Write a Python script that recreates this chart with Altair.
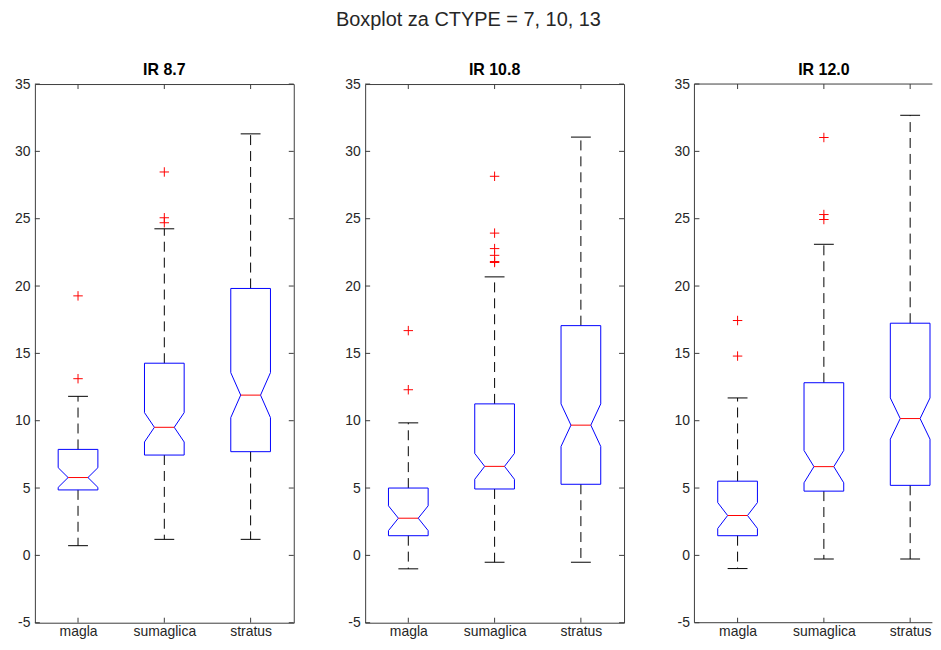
import altair as alt
import pandas as pd

# ---------------- data ----------------
kategorije = ["magla", "sumaglica", "stratus"]
kanali = ["IR 8.7", "IR 10.8", "IR 12.0"]

# IR 8.7
ir87_donji = [0.72, 1.19, 1.19]       # lower whisker
ir87_q1 = [4.86, 7.45, 7.70]
ir87_med = [5.78, 9.51, 11.90]
ir87_q3 = [7.87, 14.27, 19.82]
ir87_gornji = [11.81, 24.25, 31.30]   # upper whisker
ir87_zarez = [0.73, 1.09, 1.67]       # notch half-height
ir87_izdvojeni = [[13.12, 19.27], [24.70, 25.07, 28.47], []]

# IR 10.8
ir108_donji = [-1.00, -0.51, -0.51]
ir108_q1 = [1.46, 4.93, 5.28]
ir108_med = [2.76, 6.61, 9.67]
ir108_q3 = [5.00, 11.25, 17.06]
ir108_gornji = [9.84, 20.68, 31.06]
ir108_zarez = [0.92, 0.96, 1.58]
ir108_izdvojeni = [[12.30, 16.69], [21.75, 21.82, 22.28, 22.78, 23.93, 28.15], []]

# IR 12.0
ir120_donji = [-0.98, -0.27, -0.27]
ir120_q1 = [1.46, 4.77, 5.20]
ir120_med = [2.96, 6.59, 10.16]
ir120_q3 = [5.51, 12.82, 17.24]
ir120_gornji = [11.69, 23.10, 32.68]
ir120_zarez = [0.96, 1.20, 1.53]
ir120_izdvojeni = [[14.80, 17.44], [24.94, 25.31, 31.03], []]

y_tick_values = [-5, 0, 5, 10, 15, 20, 25, 30, 35]
x_tick_values = [1, 2, 3]

paneli = [
    (ir87_donji, ir87_q1, ir87_med, ir87_q3, ir87_gornji, ir87_zarez, ir87_izdvojeni),
    (ir108_donji, ir108_q1, ir108_med, ir108_q3, ir108_gornji, ir108_zarez, ir108_izdvojeni),
    (ir120_donji, ir120_q1, ir120_med, ir120_q3, ir120_gornji, ir120_zarez, ir120_izdvojeni),
]

# ---------------- style / layout ----------------
W, H = 260, 541
W3 = 239              # last panel is cut by the right edge of the figure, as in the original
BOX_W = 0.46          # box width in category units
TICK = 5              # inward tick length (px)
FONT = "Liberation Sans"
FRAME = "#3c3c3c"
TXT = "#262626"
BLUE = "#0000ff"
RED = "#ff0000"

ys = alt.Scale(domain=[-5, 35], nice=False, zero=False)

label_expr = "[" + ",".join("'%s'" % k for k in kategorije) + "][datum.value - 1]"
x_axis = alt.Axis(values=x_tick_values, labelExpr=label_expr, title=None, grid=False,
                  domain=False, ticks=False, tickSize=0, labelPadding=2, labelFontSize=14,
                  labelColor=TXT, labelFont=FONT, minExtent=0)
y_axis = alt.Axis(values=y_tick_values, labelExpr="toString(datum.value)", title=None,
                  grid=False, domain=False, ticks=False, tickSize=0, labelPadding=5,
                  labelFontSize=14, labelColor=TXT, labelFont=FONT, minExtent=0)


def panel(stats, naslov, width, cut=False):
    xs = alt.Scale(domain=[0.5, 0.5 + 3.0 * width / W], nice=False, zero=False)

    def X(f):
        return alt.X(f, type="quantitative", scale=xs, axis=x_axis)

    def Y(f):
        return alt.Y(f, type="quantitative", scale=ys, axis=y_axis)

    donji, q1, med, q3, gornji, zarez, izdvojeni = stats
    poly, medians, whisk, caps, outs = [], [], [], [], []
    for i, k in enumerate(kategorije):
        c = i + 1
        hw = BOX_W / 2
        nlo, nhi = med[i] - zarez[i], med[i] + zarez[i]
        verts = [
            (c - hw, q1[i]), (c - hw, nlo), (c - hw / 2, med[i]), (c - hw, nhi),
            (c - hw, q3[i]), (c + hw, q3[i]), (c + hw, nhi), (c + hw / 2, med[i]),
            (c + hw, nlo), (c + hw, q1[i]), (c - hw, q1[i]),
        ]
        for j, (vx, vy) in enumerate(verts):
            poly.append({"kat": k, "ord": j, "x": vx, "y": vy})
        medians.append({"kat": k, "xl": c - hw / 2, "xr": c + hw / 2, "y": med[i]})
        whisk.append({"kat": k, "c": c, "a": q3[i], "b": gornji[i]})
        whisk.append({"kat": k, "c": c, "a": q1[i], "b": donji[i]})
        caps.append({"kat": k, "xl": c - hw / 2, "xr": c + hw / 2, "y": gornji[i]})
        caps.append({"kat": k, "xl": c - hw / 2, "xr": c + hw / 2, "y": donji[i]})
        for v in izdvojeni[i]:
            outs.append({"kat": k, "c": c, "y": v})

    ytk = pd.DataFrame({"v": y_tick_values})
    xtk = pd.DataFrame({"c": x_tick_values})

    box = alt.Chart(pd.DataFrame(poly)).mark_line(color=BLUE, strokeWidth=1).encode(
        x=X("x"), y=Y("y"), detail="kat:N", order="ord:Q")
    med_l = alt.Chart(pd.DataFrame(medians)).mark_rule(color=RED, strokeWidth=1).encode(
        x=X("xl"), x2="xr", y=Y("y"))
    wh = alt.Chart(pd.DataFrame(whisk)).mark_rule(color="black", strokeWidth=1,
                                                   strokeDash=[10, 6]).encode(
        x=X("c"), y=Y("a"), y2="b")
    cp = alt.Chart(pd.DataFrame(caps)).mark_rule(color="black", strokeWidth=1).encode(
        x=X("xl"), x2="xr", y=Y("y"))
    ol = alt.Chart(pd.DataFrame(outs, columns=["kat", "c", "y"])).mark_point(
        shape="M-1,0L1,0M0,-1L0,1", color=RED, filled=False, size=90, strokeWidth=1,
        opacity=1).encode(x=X("c"), y=Y("y"))
    t_left = alt.Chart(ytk).mark_rule(color=FRAME, strokeWidth=1).encode(
        y=Y("v"), x=alt.value(0), x2=alt.value(TICK))
    t_top = alt.Chart(xtk).mark_rule(color=FRAME, strokeWidth=1).encode(
        x=X("c"), y=alt.value(0), y2=alt.value(TICK))
    t_bot = alt.Chart(xtk).mark_rule(color=FRAME, strokeWidth=1).encode(
        x=X("c"), y=alt.value(H), y2=alt.value(H - TICK))
    layers = [t_left, t_top, t_bot]
    title_dx = 0
    if cut:
        one = pd.DataFrame({"k": [0]})
        f_left = alt.Chart(one).mark_rule(color=FRAME, strokeWidth=1).encode(
            x=alt.value(0), y=alt.value(0), y2=alt.value(H))
        f_top = alt.Chart(one).mark_rule(color=FRAME, strokeWidth=1).encode(
            x=alt.value(0), x2=alt.value(width), y=alt.value(0))
        f_bot = alt.Chart(one).mark_rule(color=FRAME, strokeWidth=1).encode(
            x=alt.value(0), x2=alt.value(width), y=alt.value(H))
        layers += [f_left, f_top, f_bot]
        title_dx = (W - width) / 2
    else:
        t_right = alt.Chart(ytk).mark_rule(color=FRAME, strokeWidth=1).encode(
            y=Y("v"), x=alt.value(width), x2=alt.value(width - TICK))
        layers.append(t_right)
    layers += [wh, cp, box, med_l, ol]

    props = dict(
        width=width, height=H,
        title=alt.Title(naslov, fontSize=16, fontWeight="bold", font=FONT, color="black",
                        offset=-1, dx=title_dx))
    if cut:
        props["view"] = alt.ViewBackground(strokeOpacity=0)
    return alt.layer(*layers).properties(**props)


charts = [panel(paneli[0], kanali[0], W),
          panel(paneli[1], kanali[1], W),
          panel(paneli[2], kanali[2], W3, cut=True)]

chart = alt.hconcat(*charts, spacing=48.7).properties(
    title=alt.Title("Boxplot za CTYPE = 7, 10, 13", fontSize=20, fontWeight="normal",
                    font=FONT, color=TXT, anchor="middle", offset=32, dx=-5),
    padding={"left": 5, "top": 0, "right": 0, "bottom": 0},
).configure_view(stroke=FRAME, strokeWidth=1, fill="white")

chart.save("out.html", embed_options={"renderer": "svg", "actions": False})
